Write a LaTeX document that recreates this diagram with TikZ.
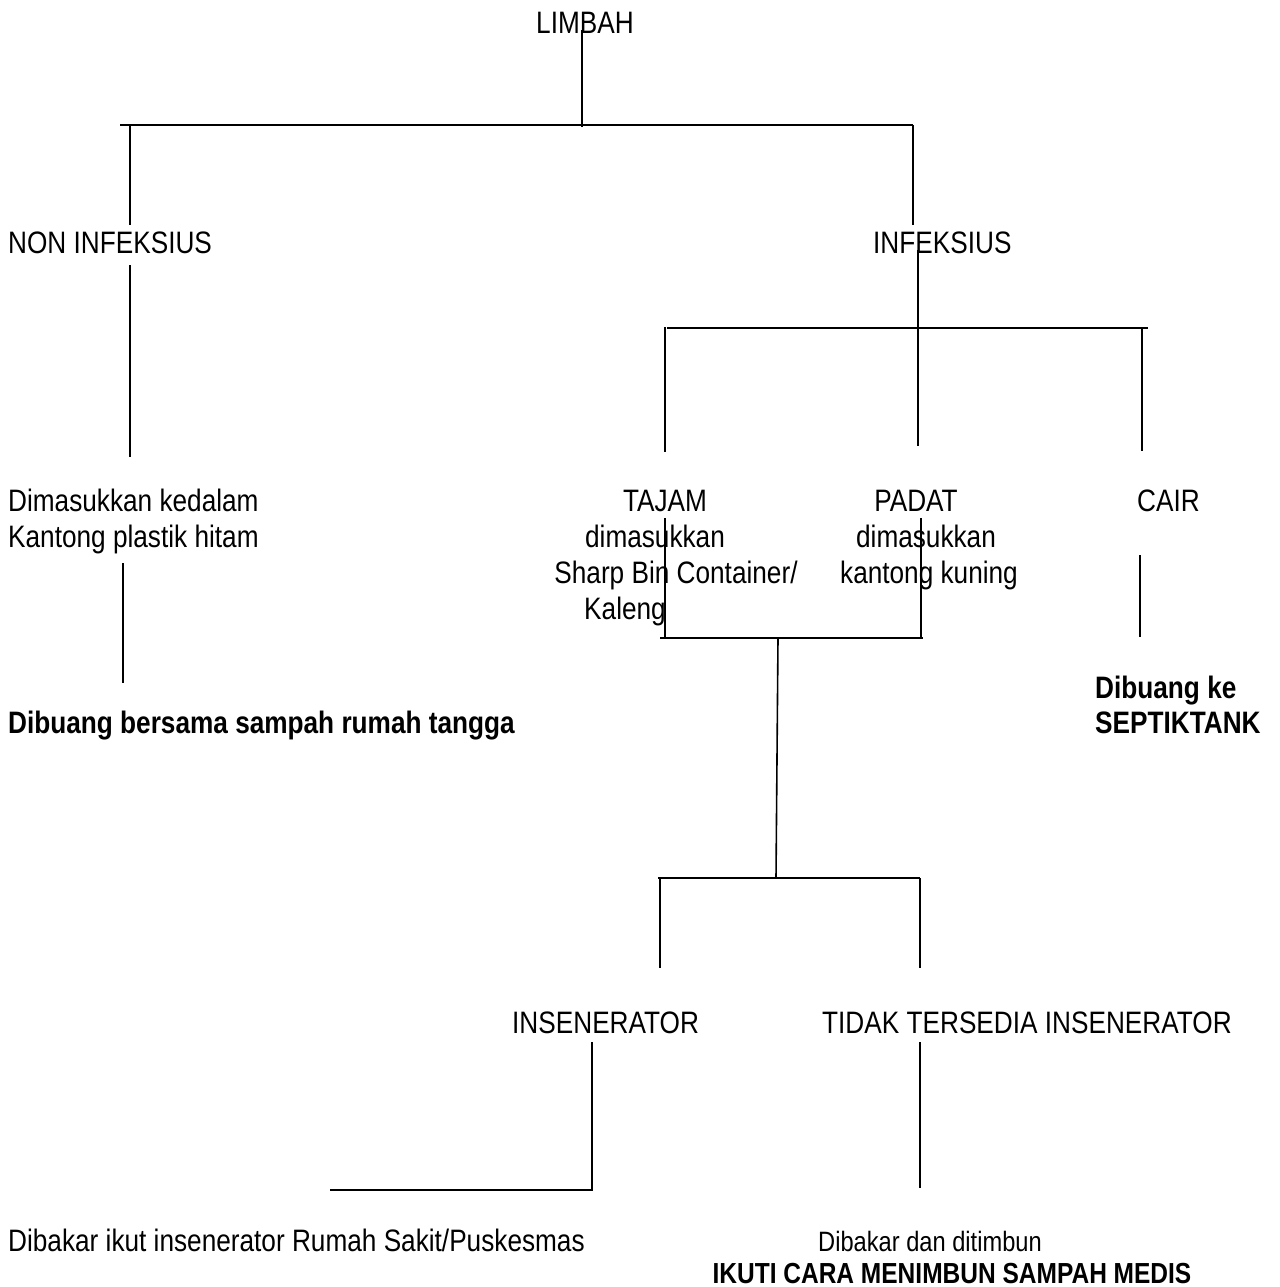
\documentclass[tikz,border=0pt]{standalone}
\usepackage{fontspec}
\setmainfont{Liberation Sans}[FakeStretch=0.845]
\usepackage{tikz}
\usetikzlibrary{positioning}
\tikzset{
  teks/.style={inner sep=0pt, font=\fontsize{31}{36}\selectfont},
  tebal/.style={inner sep=0pt, font=\fontsize{31}{36}\selectfont\bfseries},
  garis/.style={draw, line width=1.6pt},
}

\begin{document}
\begin{tikzpicture}[x=1pt, y=-1pt]
  \useasboundingbox (0,0) rectangle (1279,1287);

  % Judul
  \node[teks, anchor=base] (limbah) at (585,34) {LIMBAH};

  % Cabang pertama
  \node[teks, anchor=base west] (non)  at (8,253)   {NON INFEKSIUS};
  \node[teks, anchor=base west] (inf)  at (873,253) {INFEKSIUS};

  \coordinate (limbahBawah) at (582,30);
  \coordinate (bar1kiri)  at (120,125);
  \coordinate (bar1kanan) at (913,125);
  \coordinate (bar1tengah) at (582,127);
  \coordinate (nonAtas) at (130,125);
  \coordinate (nonTurun) at (130,225);
  \coordinate (infTurun) at (913,225);
  \draw[garis] (limbahBawah) -- (bar1tengah);
  \draw[garis] (bar1kiri) -- (bar1kanan);
  \draw[garis] (nonAtas) -- (nonTurun);
  \draw[garis] (bar1kanan) -- (infTurun);

  % Non infeksius
  \node[teks, anchor=base west] (kantongHitam1) at (8,511) {Dimasukkan kedalam};
  \node[teks, anchor=base west] (kantongHitam2) at (8,547) {Kantong plastik hitam};
  \node[tebal, anchor=base west] (rumahTangga) at (8,733) {Dibuang bersama sampah rumah tangga};
  \coordinate (nonA) at (130,265);
  \coordinate (nonB) at (130,457);
  \coordinate (hitamA) at (123,563);
  \coordinate (hitamB) at (123,683);
  \draw[garis] (nonA) -- (nonB);
  \draw[garis] (hitamA) -- (hitamB);

  % Infeksius
  \coordinate (infA) at (918,250);
  \coordinate (infB) at (918,446);
  \coordinate (bar2kiri)  at (667,328);
  \coordinate (bar2kanan) at (1148,328);
  \coordinate (tajamA) at (665,327);
  \coordinate (tajamB) at (665,452);
  \coordinate (cairA) at (1142,328);
  \coordinate (cairB) at (1142,451);
  \draw[garis] (infA) -- (infB);
  \draw[garis] (bar2kiri) -- (bar2kanan);
  \draw[garis] (tajamA) -- (tajamB);
  \draw[garis] (cairA) -- (cairB);

  \node[teks, anchor=base] (tajam)  at (665,511) {TAJAM};
  \node[teks, anchor=base] (tajam2) at (655,547) {dimasukkan};
  \node[teks, anchor=base] (tajam3) at (676,583) {Sharp Bin Container/};
  \node[teks, anchor=base] (tajam4) at (625,619) {Kaleng};
  \node[teks, anchor=base] (padat)  at (916,511) {PADAT};
  \node[teks, anchor=base] (padat2) at (926,547) {dimasukkan};
  \node[teks, anchor=base] (padat3) at (929,583) {kantong kuning};
  \node[teks, anchor=base west] (cair) at (1137,511) {CAIR};
  \node[tebal, anchor=base west] (septik1) at (1095,698) {Dibuang ke};
  \node[tebal, anchor=base west] (septik2) at (1095,733) {SEPTIKTANK};

  \coordinate (kotakKiriA) at (665,518);
  \coordinate (kotakKiriB) at (665,638);
  \coordinate (kotakKananA) at (921,518);
  \coordinate (kotakKananB) at (921,638);
  \coordinate (bar3kiri)  at (660,638);
  \coordinate (bar3kanan) at (923,638);
  \coordinate (batangA) at (778,638);
  \coordinate (batangB) at (776,878);
  \coordinate (cairC) at (1140,555);
  \coordinate (cairD) at (1140,637);
  \draw[garis] (kotakKiriA) -- (kotakKiriB);
  \draw[garis] (kotakKananA) -- (kotakKananB);
  \draw[garis] (bar3kiri) -- (bar3kanan);
  \draw[garis] (batangA) -- (batangB);
  \draw[garis] (cairC) -- (cairD);

  % Pemusnahan
  \coordinate (bar4kiri)  at (658,878);
  \coordinate (bar4kanan) at (920,878);
  \coordinate (insA) at (660,878);
  \coordinate (insB) at (660,968);
  \coordinate (tidakB) at (920,968);
  \draw[garis] (bar4kiri) -- (bar4kanan);
  \draw[garis] (insA) -- (insB);
  \draw[garis] (bar4kanan) -- (tidakB);

  \node[teks, anchor=base west] (ins)   at (512,1033) {INSENERATOR};
  \node[teks, anchor=base west] (tidak) at (822,1033) {TIDAK TERSEDIA INSENERATOR};

  \coordinate (insC) at (592,1042);
  \coordinate (insD) at (592,1190);
  \coordinate (bar5kiri) at (330,1190);
  \coordinate (bar5kanan) at (593,1190);
  \coordinate (tidakC) at (920,1042);
  \coordinate (tidakD) at (920,1188);
  \draw[garis] (insC) -- (insD);
  \draw[garis] (bar5kiri) -- (bar5kanan);
  \draw[garis] (tidakC) -- (tidakD);

  \node[teks, anchor=base west] (bakar) at (8,1251) {Dibakar ikut insenerator Rumah Sakit/Puskesmas};
  \node[teks, anchor=base, font=\fontsize{28}{33}\selectfont] (timbun) at (930,1251) {Dibakar dan ditimbun};
  \node[tebal, anchor=base, font=\fontsize{29}{34}\selectfont\bfseries] (medis) at (952,1283) {IKUTI CARA MENIMBUN SAMPAH MEDIS};
\end{tikzpicture}
\end{document}
